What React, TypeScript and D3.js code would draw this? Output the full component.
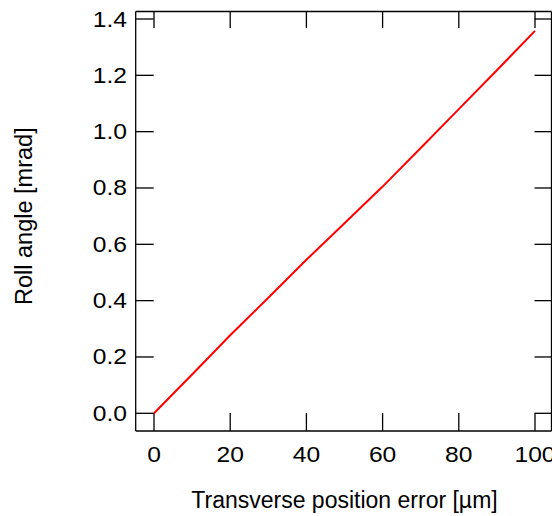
import React from "react";
import * as d3 from "d3";

// Transverse position error [µm] vs roll angle [mrad]
const positionError = [0, 10, 20, 30, 40, 50, 60, 70, 80, 90, 100];
const rollAngle = [0, 0.138, 0.277, 0.41, 0.545, 0.675, 0.805, 0.942, 1.08, 1.218, 1.358];
const xTicks = [0, 20, 40, 60, 80, 100];
const yTicks = [0, 0.2, 0.4, 0.6, 0.8, 1.0, 1.2, 1.4];

const W = 552;
const H = 516;
const box = { left: 135.7, right: 551.5, top: 11.5, bottom: 431 };
const tickLen = 18;
const font = "'Liberation Sans', Arial, sans-serif";

export default function App() {
  const x = d3.scaleLinear().domain([0, 100]).range([154, 535]);
  const y = d3.scaleLinear().domain([0, 1.4]).range([413.3, 19]);
  const line = d3
    .line<number>()
    .x((_, i) => x(positionError[i]))
    .y((d) => y(d));

  const axisStroke = { stroke: "#000", strokeWidth: 1.3 };

  return (
    <svg
      width={W}
      height={H}
      style={{ position: "absolute", left: 0, top: 0, background: "#fff" }}
    >
      {/* frame */}
      <line x1={box.left} x2={box.left} y1={box.top} y2={box.bottom} {...axisStroke} />
      <line x1={box.left} x2={box.right} y1={box.bottom} y2={box.bottom} {...axisStroke} />
      <line x1={box.left} x2={box.right} y1={box.top} y2={box.top} {...axisStroke} />
      <line x1={box.right} x2={box.right} y1={box.top} y2={box.bottom} {...axisStroke} />

      {/* y ticks, left and right, pointing inward */}
      {yTicks.map((t) => (
        <g key={"y" + t}>
          <line x1={box.left} x2={box.left + tickLen} y1={y(t)} y2={y(t)} {...axisStroke} />
          <line x1={box.right - tickLen + 1} x2={box.right} y1={y(t)} y2={y(t)} {...axisStroke} />
          <text
            transform={`translate(127,${y(t) + 7.5}) scale(1.12,1)`}
            textAnchor="end"
            fontFamily={font}
            fontSize={22}
            fill="#000"
          >
            {t.toFixed(1)}
          </text>
        </g>
      ))}

      {/* x ticks, bottom and top, pointing inward */}
      {xTicks.map((t) => (
        <g key={"x" + t}>
          <line x1={x(t)} x2={x(t)} y1={box.bottom} y2={box.bottom - tickLen} {...axisStroke} />
          <line x1={x(t)} x2={x(t)} y1={box.top} y2={box.top + 16.5} {...axisStroke} />
          <text
            transform={`translate(${x(t)},462) scale(1.12,1)`}
            textAnchor="middle"
            fontFamily={font}
            fontSize={22}
            fill="#000"
          >
            {t}
          </text>
        </g>
      ))}

      {/* data */}
      <path d={line(rollAngle) || ""} fill="none" stroke="#ff0000" strokeWidth={2} />

      {/* axis titles */}
      <text
        x={(x(0) + x(100)) / 2}
        y={508}
        textAnchor="middle"
        fontFamily={font}
        fontSize={23}
        fill="#000"
      >
        Transverse position error [µm]
      </text>
      <text
        transform={`translate(32,${(y(0) + y(1.4)) / 2}) rotate(-90)`}
        textAnchor="middle"
        fontFamily={font}
        fontSize={23.5}
        fill="#000"
      >
        Roll angle [mrad]
      </text>
    </svg>
  );
}
